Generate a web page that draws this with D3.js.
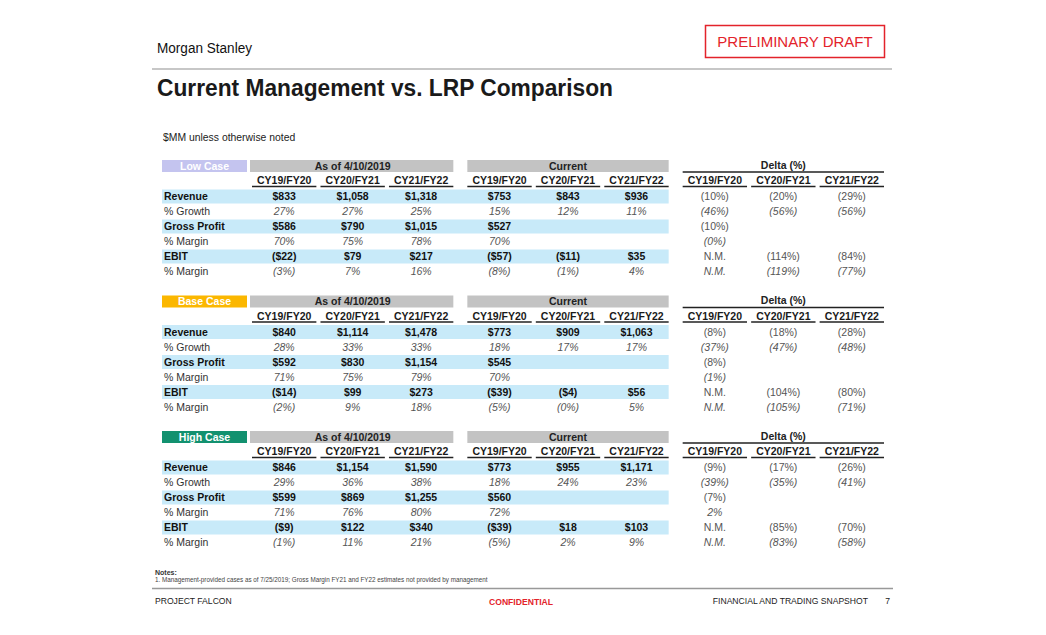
<!DOCTYPE html>
<html><head><meta charset="utf-8">
<script src="https://cdn.jsdelivr.net/npm/d3@7"></script>
<style>body{margin:0;background:#fff}svg{display:block}text{font-family:"Liberation Sans",Arial,sans-serif}</style>
</head><body><svg id="c" width="1046" height="635"></svg>
<script>
// ---------- data ----------
const cases = ["Low Case", "Base Case", "High Case"];
const groups = ["As of 4/10/2019", "Current", "Delta (%)"];
const periods = ["CY19/FY20", "CY20/FY21", "CY21/FY22"];
const metrics = ["Revenue", "% Growth", "Gross Profit", "% Margin", "EBIT", "% Margin"];
const metricKind = ["$", "%", "$", "%", "$", "%"];

// As of 4/10/2019 (per case: Low, Base, High)
const revenueAsOf      = [[833, 1058, 1318], [840, 1114, 1478], [846, 1154, 1590]];
const growthAsOf       = [[27, 27, 25], [28, 33, 33], [29, 36, 38]];
const grossProfitAsOf  = [[586, 790, 1015], [592, 830, 1154], [599, 869, 1255]];
const grossMarginAsOf  = [[70, 75, 78], [71, 75, 79], [71, 76, 80]];
const ebitAsOf         = [[-22, 79, 217], [-14, 99, 273], [-9, 122, 340]];
const ebitMarginAsOf   = [[-3, 7, 16], [-2, 9, 18], [-1, 11, 21]];

// Current
const revenueCurrent     = [[753, 843, 936], [773, 909, 1063], [773, 955, 1171]];
const growthCurrent      = [[15, 12, 11], [18, 17, 17], [18, 24, 23]];
const grossProfitCurrent = [[527, null, null], [545, null, null], [560, null, null]];
const grossMarginCurrent = [[70, null, null], [70, null, null], [72, null, null]];
const ebitCurrent        = [[-57, -11, 35], [-39, -4, 56], [-39, 18, 103]];
const ebitMarginCurrent  = [[-8, -1, 4], [-5, -0, 5], [-5, 2, 9]];

// Delta (%)
const revenueDelta     = [[-10, -20, -29], [-8, -18, -28], [-9, -17, -26]];
const growthDelta      = [[-46, -56, -56], [-37, -47, -48], [-39, -35, -41]];
const grossProfitDelta = [[-10, null, null], [-8, null, null], [-7, null, null]];
const grossMarginDelta = [[-0, null, null], [-1, null, null], [2, null, null]];
const ebitDelta        = [["N.M.", -114, -84], ["N.M.", -104, -80], ["N.M.", -85, -70]];
const ebitMarginDelta  = [["N.M.", -119, -77], ["N.M.", -105, -71], ["N.M.", -83, -58]];

const noteLines = ["Notes:", "1.  Management-provided cases as of  7/25/2019; Gross Margin FY21 and FY22 estimates not provided by management"];

// ---------- assembly ----------
const tableByGroup = [
  [revenueAsOf, growthAsOf, grossProfitAsOf, grossMarginAsOf, ebitAsOf, ebitMarginAsOf],
  [revenueCurrent, growthCurrent, grossProfitCurrent, grossMarginCurrent, ebitCurrent, ebitMarginCurrent],
  [revenueDelta, growthDelta, grossProfitDelta, grossMarginDelta, ebitDelta, ebitMarginDelta]
];

const caseFill = {"Low Case": "#c4c4ef", "Base Case": "#fbb700", "High Case": "#12916f"};

const fmtNum = d3.format(",");
function fmtDollar(v) {
  if (v == null) return "";
  if (typeof v === "string") return v;
  return v < 0 ? "($" + fmtNum(-v) + ")" : "$" + fmtNum(v);
}
function fmtPct(v) {
  if (v == null) return "";
  if (typeof v === "string") return v;
  const neg = v < 0 || Object.is(v, -0);
  return neg ? "(" + Math.abs(v) + "%)" : v + "%";
}

const svg = d3.select("#c");
svg.append("rect").attr("width", 1046).attr("height", 635).attr("fill", "#fff");

// header
svg.append("text").attr("x", 157).attr("y", 53).attr("font-size", 14)
  .attr("textLength", 95).attr("lengthAdjust", "spacingAndGlyphs")
  .attr("fill", "#111").text("Morgan Stanley");
svg.append("rect").attr("x", 705.5).attr("y", 25.5).attr("width", 179).attr("height", 32)
  .attr("fill", "none").attr("stroke", "#e3232b").attr("stroke-width", 1.5);
svg.append("text").attr("x", 795).attr("y", 47).attr("text-anchor", "middle")
  .attr("font-size", 15).attr("fill", "#e3232b")
  .text("PRELIMINARY DRAFT");
svg.append("line").attr("x1", 152).attr("x2", 892).attr("y1", 69).attr("y2", 69)
  .attr("stroke", "#b4b4b4").attr("stroke-width", 1.5);
svg.append("text").attr("x", 157).attr("y", 96).attr("font-size", 23).attr("font-weight", "bold")
  .attr("textLength", 456).attr("lengthAdjust", "spacingAndGlyphs")
  .attr("fill", "#1a1a1a").text("Current Management vs. LRP Comparison");
svg.append("text").attr("x", 163).attr("y", 141).attr("font-size", 10.4).attr("fill", "#222")
  .text("$MM unless otherwise noted");

// scales
const x0 = d3.scaleBand().domain(groups).range([252, 884]).paddingInner(0.065);
const x1 = d3.scaleBand().domain(periods).range([0, x0.bandwidth()]).paddingInner(0.06);
const ySec = d3.scalePoint().domain(cases).range([160, 431]);
const yRow = d3.scaleBand().domain(d3.range(metrics.length)).range([29, 119]);
const labelX0 = 162, labelX1 = 247;
const bandRight = x0("Current") + x0.bandwidth();
const FS = 10.5;

cases.forEach((c, ci) => {
  const top = ySec(c);
  const g = svg.append("g").attr("transform", `translate(0,${top})`);

  // case label
  g.append("rect").attr("x", labelX0).attr("y", 0).attr("width", labelX1 - labelX0).attr("height", 12)
    .attr("fill", caseFill[c]);
  g.append("text").attr("x", (labelX0 + labelX1) / 2).attr("y", 6).attr("dy", "0.36em")
    .attr("text-anchor", "middle").attr("font-size", FS).attr("font-weight", "bold")
    .attr("fill", "#fff").text(c);

  // group headers
  groups.forEach((grp, gi) => {
    const gx = x0(grp), bw = x0.bandwidth();
    if (gi < 2) {
      g.append("rect").attr("x", gx - (gi === 0 ? 2 : 0)).attr("y", 0).attr("width", bw + (gi === 0 ? 2 : 0)).attr("height", 12)
        .attr("fill", "#c3c3c3");
      g.append("text").attr("x", gx + bw / 2).attr("y", 6).attr("dy", "0.36em")
        .attr("text-anchor", "middle").attr("font-size", FS).attr("font-weight", "bold")
        .attr("fill", "#222").text(grp);
    } else {
      g.append("text").attr("x", gx + bw / 2).attr("y", 5).attr("dy", "0.36em")
        .attr("text-anchor", "middle").attr("font-size", FS).attr("font-weight", "bold")
        .attr("fill", "#222").text(grp);
      g.append("line").attr("x1", gx).attr("x2", gx + bw).attr("y1", 12).attr("y2", 12)
        .attr("stroke", "#222").attr("stroke-width", 1.6);
    }
    periods.forEach(p => {
      const px = gx + x1(p);
      g.append("text").attr("x", px + x1.bandwidth() / 2).attr("y", 20.5).attr("dy", "0.36em")
        .attr("text-anchor", "middle").attr("font-size", FS).attr("font-weight", "bold")
        .attr("fill", "#1a1a1a").text(p);
      g.append("line").attr("x1", px).attr("x2", px + x1.bandwidth()).attr("y1", 26.5).attr("y2", 26.5)
        .attr("stroke", "#222").attr("stroke-width", 1.5);
    });
  });

  // rows
  metrics.forEach((m, mi) => {
    const ry = yRow(mi), rh = yRow.bandwidth();
    const isDollar = metricKind[mi] === "$";
    if (isDollar) {
      g.append("rect").attr("x", labelX0).attr("y", ry + 0.5).attr("width", bandRight - labelX0).attr("height", rh - 1)
        .attr("fill", "#c8eaf9");
    }
    g.append("text").attr("x", 164).attr("y", ry + rh / 2).attr("dy", "0.36em")
      .attr("font-size", FS).attr("font-weight", isDollar ? "bold" : "normal")
      .attr("fill", isDollar ? "#111" : "#333").text(m);

    groups.forEach((grp, gi) => {
      const vals = tableByGroup[gi][mi][ci];
      periods.forEach((p, pi) => {
        const v = vals[pi];
        const txt = gi === 2 ? fmtPct(v) : (isDollar ? fmtDollar(v) : fmtPct(v));
        if (!txt) return;
        const t = g.append("text").attr("x", x0(grp) + x1(p) + x1.bandwidth() / 2)
          .attr("y", ry + rh / 2).attr("dy", "0.36em").attr("text-anchor", "middle")
          .attr("font-size", FS).text(txt);
        if (gi < 2 && isDollar) t.attr("font-weight", "bold").attr("fill", "#111");
        else if (isDollar) t.attr("fill", "#555");
        else t.attr("font-style", "italic").attr("fill", "#555");
      });
    });
  });
});

// notes & footer
svg.append("text").attr("x", 155).attr("y", 575).attr("font-size", 7).attr("font-weight", "bold")
  .attr("fill", "#333").text(noteLines[0]);
svg.append("text").attr("x", 155).attr("y", 582).attr("font-size", 6.3)
  .attr("fill", "#444").text(noteLines[1]);
svg.append("line").attr("x1", 152).attr("x2", 893).attr("y1", 588.5).attr("y2", 588.5)
  .attr("stroke", "#999").attr("stroke-width", 1.5);
svg.append("text").attr("x", 155).attr("y", 604).attr("font-size", 8.6).attr("fill", "#222").text("PROJECT FALCON");
svg.append("text").attr("x", 521).attr("y", 605).attr("text-anchor", "middle").attr("font-size", 8.6)
  .attr("font-weight", "bold").attr("fill", "#e3232b").text("CONFIDENTIAL");
svg.append("text").attr("x", 868).attr("y", 604).attr("text-anchor", "end").attr("font-size", 8.6)
  .attr("fill", "#222").text("FINANCIAL AND TRADING SNAPSHOT");
svg.append("text").attr("x", 890).attr("y", 604).attr("text-anchor", "end").attr("font-size", 8.6)
  .attr("fill", "#222").text("7");
</script></body></html>
